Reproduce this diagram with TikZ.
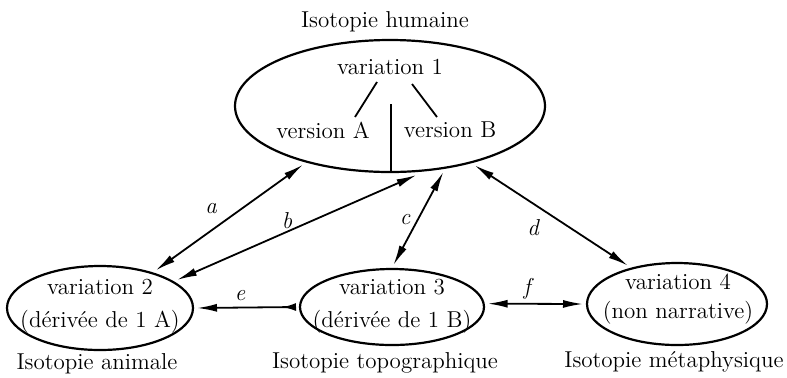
\documentclass[tikz,border=0pt]{standalone}
\usetikzlibrary{shapes.geometric,arrows.meta}
\begin{document}
\begin{tikzpicture}[x=0.5pt,y=-0.5pt,
  every node/.style={font=\fontsize{11.5}{13.5}\selectfont},
  ell/.style={draw,ellipse,line width=1.1pt,inner sep=0pt,outer sep=2pt},
  lbl/.style={font=\fontsize{11.5}{13.5}\selectfont\itshape},
  link/.style={line width=0.9pt,{Latex[length=10pt,width=4pt]}-{Latex[length=10pt,width=4pt]}},
  tree/.style={line width=0.9pt}]
\useasboundingbox (0,0) rectangle (787,377);
% ellipses
\node[ell,minimum width=155pt,minimum height=66pt] (T) at (390,106) {};
\node[ell,minimum width=93pt,minimum height=42pt] (V2) at (100,308) {};
\node[ell,minimum width=92pt,minimum height=38pt] (V3) at (392,307) {};
\node[ell,minimum width=90pt,minimum height=41pt] (V4) at (677,304) {};
% texts
\node (hT) at (385,22) {Isotopie humaine};
\node (v1) at (390,67) {variation 1};
\node (vA) at (323,130) {version A};
\node (vB) at (450,130) {version B};
\coordinate (l1a) at (377,82); \coordinate (l1b) at (355,117);
\coordinate (l2a) at (412,84); \coordinate (l2b) at (437,117);
\coordinate (vt) at (391,104);
\draw[tree] (l1a) -- (l1b);
\draw[tree] (l2a) -- (l2b);
\draw[tree,shorten >=2.4pt] (vt) -- (vt |- T.south);
\node[align=center] (t2) at (100,306) {variation 2\\[3pt](dérivée de 1 A)};
\node[align=center] (t3) at (392,306) {variation 3\\[3pt](dérivée de 1 B)};
\node[align=center] (t4) at (678,299) {variation 4\\[1pt](non narrative)};
\node (i2) at (97,364) {Isotopie animale};
\node (i3) at (385,363) {Isotopie topographique};
\node (i4) at (674,362) {Isotopie métaphysique};
% connectors
\draw[link] (V2.34) -- (T.214);
\draw[link] (V2.20) -- (T.291);
\draw[link] (T.309) -- (V3.88);
\draw[link] (T.325) -- (V4.142);
\draw[line width=0.9pt,{Latex[length=10pt,width=4pt]}-{Latex[reversed,length=7pt,width=4pt]}] (V2.0) -- (V3.180);
\draw[link] (V3.2) -- (V4.180);
% labels
\node[lbl] (la) at (211,209) {a};
\node[lbl] (lb) at (287,221) {b};
\node[lbl] (lc) at (405,220) {c};
\node[lbl] (ld) at (533,228) {d};
\node[lbl] (le) at (240,296) {e};
\node[lbl] (lf) at (527,289) {f};
\end{tikzpicture}
\end{document}
